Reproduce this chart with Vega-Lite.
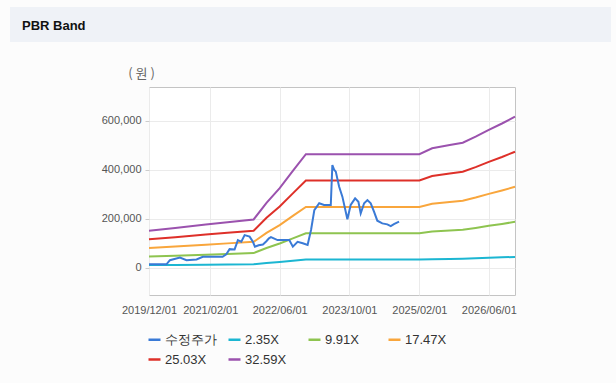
{
  "$schema": "https://vega.github.io/schema/vega-lite/v6.json",
  "background": "#fcfcfc",
  "padding": {"left": 10, "top": 7, "right": 5, "bottom": 15},
  "bounds": "flush",
  "spacing": 45,
  "config": {"font": "Liberation Sans"},
  "resolve": {"scale": {"color": "independent"}, "legend": {"color": "independent"}},
  "vconcat": [
    {
      "width": 601,
      "height": 35,
      "data": {"values": []},
      "mark": "point",
      "view": {"fill": "#eff2f7", "stroke": null},
      "title": {"text": "PBR Band", "anchor": "start", "frame": "group", "offset": -32, "dx": 12, "baseline": "middle", "fontSize": 13, "fontWeight": "bold", "color": "#111111", "font": "Liberation Sans"}
    },
    {
      "bounds": "flush",
      "spacing": 0,
      "resolve": {"scale": {"color": "independent"}, "legend": {"color": "independent"}},
      "hconcat": [
        {
          "width": 139,
          "height": 1,
          "data": {"values": []},
          "mark": "point",
          "view": {"stroke": null, "fill": null}
        },
        {
          "width": 366,
          "height": 208,
          "view": {"stroke": "#c4c4c4", "fill": "#ffffff"},
          "data": {"values": [
            {"d": "2019/12/01", "s": "2.35X", "v": 10888}, {"d": "2019/12/01", "s": "9.91X", "v": 45913}, {"d": "2019/12/01", "s": "17.47X", "v": 80939}, {"d": "2019/12/01", "s": "25.03X", "v": 115964}, {"d": "2019/12/01", "s": "32.59X", "v": 150989},
            {"d": "2020/06/01", "s": "2.35X", "v": 11717}, {"d": "2020/06/01", "s": "9.91X", "v": 49411}, {"d": "2020/06/01", "s": "17.47X", "v": 87105}, {"d": "2020/06/01", "s": "25.03X", "v": 124800}, {"d": "2020/06/01", "s": "32.59X", "v": 162494},
            {"d": "2021/01/01", "s": "2.35X", "v": 12690}, {"d": "2021/01/01", "s": "9.91X", "v": 53514}, {"d": "2021/01/01", "s": "17.47X", "v": 94338}, {"d": "2021/01/01", "s": "25.03X", "v": 135162}, {"d": "2021/01/01", "s": "32.59X", "v": 175986},
            {"d": "2021/06/01", "s": "2.35X", "v": 13381}, {"d": "2021/06/01", "s": "9.91X", "v": 56428}, {"d": "2021/06/01", "s": "17.47X", "v": 99474}, {"d": "2021/06/01", "s": "25.03X", "v": 142521}, {"d": "2021/06/01", "s": "32.59X", "v": 185567},
            {"d": "2021/12/01", "s": "2.35X", "v": 14206}, {"d": "2021/12/01", "s": "9.91X", "v": 59906}, {"d": "2021/12/01", "s": "17.47X", "v": 105606}, {"d": "2021/12/01", "s": "25.03X", "v": 151306}, {"d": "2021/12/01", "s": "32.59X", "v": 197007},
            {"d": "2022/03/01", "s": "2.35X", "v": 19108}, {"d": "2022/03/01", "s": "9.91X", "v": 80578}, {"d": "2022/03/01", "s": "17.47X", "v": 142049}, {"d": "2022/03/01", "s": "25.03X", "v": 203519}, {"d": "2022/03/01", "s": "32.59X", "v": 264989},
            {"d": "2022/06/01", "s": "2.35X", "v": 23434}, {"d": "2022/06/01", "s": "9.91X", "v": 98823}, {"d": "2022/06/01", "s": "17.47X", "v": 174211}, {"d": "2022/06/01", "s": "25.03X", "v": 249599}, {"d": "2022/06/01", "s": "32.59X", "v": 324987},
            {"d": "2022/09/01", "s": "2.35X", "v": 28482}, {"d": "2022/09/01", "s": "9.91X", "v": 120109}, {"d": "2022/09/01", "s": "17.47X", "v": 211736}, {"d": "2022/09/01", "s": "25.03X", "v": 303364}, {"d": "2022/09/01", "s": "32.59X", "v": 394991},
            {"d": "2022/12/01", "s": "2.35X", "v": 33386}, {"d": "2022/12/01", "s": "9.91X", "v": 140791}, {"d": "2022/12/01", "s": "17.47X", "v": 248196}, {"d": "2022/12/01", "s": "25.03X", "v": 355601}, {"d": "2022/12/01", "s": "32.59X", "v": 463006},
            {"d": "2025/02/01", "s": "2.35X", "v": 33386}, {"d": "2025/02/01", "s": "9.91X", "v": 140791}, {"d": "2025/02/01", "s": "17.47X", "v": 248196}, {"d": "2025/02/01", "s": "25.03X", "v": 355601}, {"d": "2025/02/01", "s": "32.59X", "v": 463006},
            {"d": "2025/05/01", "s": "2.35X", "v": 35116}, {"d": "2025/05/01", "s": "9.91X", "v": 148085}, {"d": "2025/05/01", "s": "17.47X", "v": 261054}, {"d": "2025/05/01", "s": "25.03X", "v": 374023}, {"d": "2025/05/01", "s": "32.59X", "v": 486992},
            {"d": "2025/09/01", "s": "2.35X", "v": 36073}, {"d": "2025/09/01", "s": "9.91X", "v": 152119}, {"d": "2025/09/01", "s": "17.47X", "v": 268165}, {"d": "2025/09/01", "s": "25.03X", "v": 384211}, {"d": "2025/09/01", "s": "32.59X", "v": 500257},
            {"d": "2025/12/01", "s": "2.35X", "v": 36775}, {"d": "2025/12/01", "s": "9.91X", "v": 155082}, {"d": "2025/12/01", "s": "17.47X", "v": 273388}, {"d": "2025/12/01", "s": "25.03X", "v": 391694}, {"d": "2025/12/01", "s": "32.59X", "v": 510001},
            {"d": "2026/03/01", "s": "2.35X", "v": 38540}, {"d": "2026/03/01", "s": "9.91X", "v": 162524}, {"d": "2026/03/01", "s": "17.47X", "v": 286508}, {"d": "2026/03/01", "s": "25.03X", "v": 410492}, {"d": "2026/03/01", "s": "32.59X", "v": 534476},
            {"d": "2026/06/01", "s": "2.35X", "v": 40526}, {"d": "2026/06/01", "s": "9.91X", "v": 170898}, {"d": "2026/06/01", "s": "17.47X", "v": 301270}, {"d": "2026/06/01", "s": "25.03X", "v": 431642}, {"d": "2026/06/01", "s": "32.59X", "v": 562015},
            {"d": "2026/09/01", "s": "2.35X", "v": 42418}, {"d": "2026/09/01", "s": "9.91X", "v": 178876}, {"d": "2026/09/01", "s": "17.47X", "v": 315334}, {"d": "2026/09/01", "s": "25.03X", "v": 451792}, {"d": "2026/09/01", "s": "32.59X", "v": 588250},
            {"d": "2026/12/01", "s": "2.35X", "v": 44420}, {"d": "2026/12/01", "s": "9.91X", "v": 187319}, {"d": "2026/12/01", "s": "17.47X", "v": 330218}, {"d": "2026/12/01", "s": "25.03X", "v": 473117}, {"d": "2026/12/01", "s": "32.59X", "v": 616016},
            {"d": "2019/12/01", "s": "수정주가", "v": 14000},
            {"d": "2020/04/01", "s": "수정주가", "v": 14000},
            {"d": "2020/04/25", "s": "수정주가", "v": 31000},
            {"d": "2020/07/04", "s": "수정주가", "v": 42000},
            {"d": "2020/08/19", "s": "수정주가", "v": 31000},
            {"d": "2020/10/28", "s": "수정주가", "v": 34000},
            {"d": "2020/12/11", "s": "수정주가", "v": 45000},
            {"d": "2021/04/28", "s": "수정주가", "v": 45000},
            {"d": "2021/05/24", "s": "수정주가", "v": 55000},
            {"d": "2021/06/16", "s": "수정주가", "v": 76000},
            {"d": "2021/07/21", "s": "수정주가", "v": 75000},
            {"d": "2021/08/13", "s": "수정주가", "v": 113000},
            {"d": "2021/09/06", "s": "수정주가", "v": 106000},
            {"d": "2021/09/29", "s": "수정주가", "v": 133000},
            {"d": "2021/11/03", "s": "수정주가", "v": 127000},
            {"d": "2021/11/26", "s": "수정주가", "v": 106000},
            {"d": "2021/12/10", "s": "수정주가", "v": 86000},
            {"d": "2022/01/05", "s": "수정주가", "v": 92000},
            {"d": "2022/02/04", "s": "수정주가", "v": 95000},
            {"d": "2022/02/28", "s": "수정주가", "v": 108000},
            {"d": "2022/03/18", "s": "수정주가", "v": 120000},
            {"d": "2022/04/01", "s": "수정주가", "v": 125000},
            {"d": "2022/05/17", "s": "수정주가", "v": 113000},
            {"d": "2022/06/21", "s": "수정주가", "v": 113000},
            {"d": "2022/08/07", "s": "수정주가", "v": 113000},
            {"d": "2022/09/01", "s": "수정주가", "v": 86000},
            {"d": "2022/10/04", "s": "수정주가", "v": 106000},
            {"d": "2022/11/09", "s": "수정주가", "v": 100000},
            {"d": "2022/12/13", "s": "수정주가", "v": 93000},
            {"d": "2023/01/06", "s": "수정주가", "v": 154000},
            {"d": "2023/01/29", "s": "수정주가", "v": 235000},
            {"d": "2023/03/04", "s": "수정주가", "v": 263000},
            {"d": "2023/04/07", "s": "수정주가", "v": 256000},
            {"d": "2023/05/24", "s": "수정주가", "v": 256000},
            {"d": "2023/06/04", "s": "수정주가", "v": 419000},
            {"d": "2023/06/16", "s": "수정주가", "v": 400000},
            {"d": "2023/06/28", "s": "수정주가", "v": 392000},
            {"d": "2023/07/21", "s": "수정주가", "v": 331000},
            {"d": "2023/08/13", "s": "수정주가", "v": 290000},
            {"d": "2023/09/17", "s": "수정주가", "v": 198000},
            {"d": "2023/10/10", "s": "수정주가", "v": 256000},
            {"d": "2023/11/10", "s": "수정주가", "v": 283000},
            {"d": "2023/12/03", "s": "수정주가", "v": 269000},
            {"d": "2023/12/19", "s": "수정주가", "v": 222000},
            {"d": "2024/01/12", "s": "수정주가", "v": 263000},
            {"d": "2024/02/04", "s": "수정주가", "v": 276000},
            {"d": "2024/02/27", "s": "수정주가", "v": 263000},
            {"d": "2024/03/21", "s": "수정주가", "v": 229000},
            {"d": "2024/04/13", "s": "수정주가", "v": 192000},
            {"d": "2024/05/18", "s": "수정주가", "v": 181000},
            {"d": "2024/06/22", "s": "수정주가", "v": 177000},
            {"d": "2024/07/16", "s": "수정주가", "v": 170000},
            {"d": "2024/08/07", "s": "수정주가", "v": 178000},
            {"d": "2024/09/12", "s": "수정주가", "v": 188000}
          ]},
          "mark": {"type": "line", "strokeWidth": 2, "interpolate": "linear"},
          "encoding": {
            "x": {
              "field": "d", "type": "temporal",
              "scale": {"domain": [{"year": 2019, "month": 12, "date": 1}, {"year": 2026, "month": 12, "date": 1}], "nice": false},
              "axis": {
                "title": null,
                "values": [{"year": 2019, "month": 12, "date": 1}, {"year": 2021, "month": 2, "date": 1}, {"year": 2022, "month": 6, "date": 1}, {"year": 2023, "month": 10, "date": 1}, {"year": 2025, "month": 2, "date": 1}, {"year": 2026, "month": 6, "date": 1}],
                "format": "%Y/%m/%d",
                "labelFlush": false,
                "labelOverlap": false,
                "ticks": false,
                "domain": false,
                "labelPadding": 9,
                "labelFontSize": 11,
                "labelColor": "#555555",
                "grid": true,
                "gridColor": "#ebebeb"
              }
            },
            "y": {
              "field": "v", "type": "quantitative",
              "scale": {"domain": [-111000, 737000], "nice": false, "zero": false},
              "axis": {
                "title": "( 원 )",
                "titleAngle": 0,
                "titleX": -8,
                "titleY": -14,
                "titleAlign": "center",
                "titleBaseline": "middle",
                "titleFont": "Noto Sans CJK KR",
                "titleFontSize": 13,
                "titleFontWeight": "normal",
                "titleColor": "#666666",
                "values": [0, 200000, 400000, 600000],
                "format": ",.0f",
                "domain": false,
                "ticks": true,
                "tickSize": 4,
                "tickColor": "#cccccc",
                "labelPadding": 4,
                "labelFontSize": 11,
                "labelColor": "#555555",
                "grid": true,
                "gridColor": "#ebebeb"
              }
            },
            "color": {
              "field": "s", "type": "nominal",
              "scale": {
                "domain": ["수정주가", "2.35X", "9.91X", "17.47X", "25.03X", "32.59X"],
                "range": ["#3a7ad6", "#1cb6d2", "#8ec450", "#f9a63c", "#de3029", "#9b52ae"]
              },
              "legend": {
                "title": null,
                "orient": "none",
                "direction": "horizontal",
                "legendX": -2,
                "legendY": 245,
                "columns": 4,
                "gridAlign": "all",
                "columnPadding": 6,
                "rowPadding": 5,
                "padding": 0,
                "symbolType": "stroke",
                "symbolSize": 144,
                "symbolStrokeWidth": 2.5,
                "labelFontSize": 13,
                "labelOffset": 3,
                "labelColor": "#333333",
                "labelFont": "Liberation Sans"
              }
            }
          }
        }
      ]
    }
  ]
}
